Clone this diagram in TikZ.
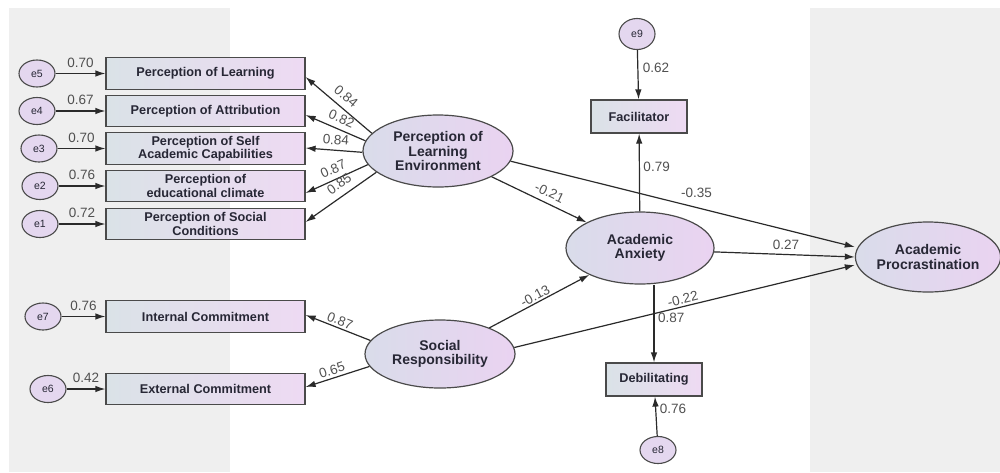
\documentclass[tikz,border=0pt]{standalone}
\usepackage{fontspec}
\setmainfont{Liberation Sans}
\usetikzlibrary{shapes.geometric,arrows.meta,calc}
\definecolor{panelc}{HTML}{EFEFEF}
\definecolor{boxL}{HTML}{DAE2E7}
\definecolor{boxR}{HTML}{EEDAF3}
\definecolor{ellL}{HTML}{D9DCEA}
\definecolor{ellR}{HTML}{EAD3F1}
\definecolor{errc}{HTML}{E4D7EF}
\definecolor{linec}{HTML}{2A2A2A}
\definecolor{bordc}{HTML}{4A4A4A}
\definecolor{numc}{HTML}{505050}
\definecolor{txtc}{HTML}{272735}
\begin{document}
\begin{tikzpicture}[x=1pt,y=-1pt,
  obs/.style={draw=bordc, line width=1.2pt, left color=boxL, right color=boxR,
    minimum width=199pt, minimum height=31.5pt, inner sep=1pt, align=center,
    text=txtc, font=\fontsize{12.7}{13.2}\selectfont\bfseries},
  obssm/.style={obs, minimum width=96pt, minimum height=33pt},
  lat/.style={ellipse, draw=bordc, line width=1.2pt, left color=ellL, right color=ellR,
    inner sep=0pt, align=center, text=txtc, font=\fontsize{14}{14.5}\selectfont\bfseries},
  err/.style={ellipse, draw=bordc, line width=1.1pt, fill=errc,
    minimum width=36pt, minimum height=27pt, inner sep=0pt,
    text=txtc, font=\fontsize{10.5}{11}\selectfont},
  arr/.style={draw=linec, line width=1.2pt, -{Latex[length=10pt,width=6.5pt]}},
  lab/.style={text=numc, inner sep=0.5pt, font=\fontsize{13.5}{13.5}\selectfont}
]
\useasboundingbox (0,0) rectangle (1000,472);
\fill[panelc] (9,8) rectangle (230,472);
\fill[panelc] (810,8) rectangle (1000,472);

% observed indicators
\node[obs] (b1) at (205.5,73.5) {Perception of Learning};
\node[obs] (b2) at (205.5,111) {Perception of Attribution};
\node[obs] (b3) at (205.5,148.5) {Perception of Self\\Academic Capabilities};
\node[obs] (b4) at (205.5,186) {Perception of\\educational climate};
\node[obs] (b5) at (205.5,224) {Perception of Social\\Conditions};
\node[obs] (bi) at (205.5,316.5) {Internal Commitment};
\node[obs] (be) at (205.5,389) {External Commitment};
\node[obssm] (fac) at (639,116.5) {Facilitator};
\node[obssm] (deb) at (654,379.5) {Debilitating};

% latent variables
\node[lat, minimum width=150pt, minimum height=72pt] (ple) at (438,151) {Perception of\\Learning\\Environment};
\node[lat, minimum width=148pt, minimum height=72pt] (aa) at (640,248) {Academic\\Anxiety};
\node[lat, minimum width=140pt, minimum height=70pt] (ap) at (928,257) {Academic\\Procrastination};
\node[lat, minimum width=150pt, minimum height=68pt] (sr) at (440,354) {Social\\Responsibility};

% error terms
\node[err] (e5) at (37,73.5) {e5};
\node[err] (e4) at (37,111) {e4};
\node[err] (e3) at (39,148.5) {e3};
\node[err] (e2) at (40,186) {e2};
\node[err] (e1) at (40,224) {e1};
\node[err] (e7) at (43,316.5) {e7};
\node[err] (e6) at (48,389) {e6};
\node[err, minimum height=31pt] (e9) at (637,34) {e9};
\node[err] (e8) at (658,450) {e8};

% error arrows
\draw[arr] (e5) -- node[lab,above=5pt]{0.70} (b1);
\draw[arr] (e4) -- node[lab,above=5pt]{0.67} (b2);
\draw[arr] (e3) -- node[lab,above=5pt]{0.70} (b3);
\draw[arr] (e2) -- node[lab,above=5pt]{0.76} (b4);
\draw[arr] (e1) -- node[lab,above=5pt]{0.72} (b5);
\draw[arr] (e7) -- node[lab,above=5pt]{0.76} (bi);
\draw[arr] (e6) -- node[lab,above=5pt]{0.42} (be);
\draw[arr] (e9) -- node[lab,right=4pt,pos=.36]{0.62} (fac);
\draw[arr] (e8) -- node[lab,right=3pt,pos=.68]{0.76} (deb);

% loadings of Perception of Learning Environment
\draw[arr] (ple.165) -- node[lab,sloped,above=5.5pt,pos=.5]{0.84} ($(b1.east)+(0,3.5)$);
\draw[arr] (ple.172) -- node[lab,sloped,above=5pt,pos=.47]{0.82} ($(b2.east)+(0,4)$);
\draw[arr] (ple.181) -- node[lab,sloped,above=4.5pt,pos=.48]{0.84} ($(b3.east)+(0,-0.5)$);
\draw[arr] (ple.191) -- node[lab,sloped,above=4.5pt,pos=.49]{0.87} ($(b4.east)+(0,7)$);
\draw[arr] (ple.199) -- node[lab,sloped,above=6pt,pos=.43]{0.85} ($(b5.east)+(0,-2)$);

% loadings of Social Responsibility
\draw[arr] (sr.169) -- node[lab,sloped,above=1.5pt,pos=.51]{0.87} ($(bi.east)+(0,-1.5)$);
\draw[arr] (sr.190) -- node[lab,sloped,above=2pt,pos=.55]{0.65} ($(be.east)+(0,-2)$);

% Academic Anxiety indicators
\draw[arr] (aa) -- node[lab,right=3pt,pos=.57]{0.79} (fac);
\draw[arr] (aa.south -| deb.north) -- node[lab,right=3pt,pos=.43]{0.87} (deb);

% structural paths
\draw[arr] (ple) -- node[lab,sloped,above=5pt,pos=.56]{-0.21} (aa);
\draw[arr] (sr) -- node[lab,sloped,above=1pt,pos=.49]{-0.13} (aa);
\draw[arr] (ple.-8) -- node[lab,above=8.5pt,pos=.54]{-0.35} ($(ap.west)+(0,-10)$);
\draw[arr] (aa.-3) -- node[lab,above=3.5pt,pos=.51]{0.27} (ap.west);
\draw[arr] (sr.5) -- node[lab,sloped,above=1.5pt,pos=.5]{-0.22} ($(ap.west)+(0,8)$);
\end{tikzpicture}
\end{document}
